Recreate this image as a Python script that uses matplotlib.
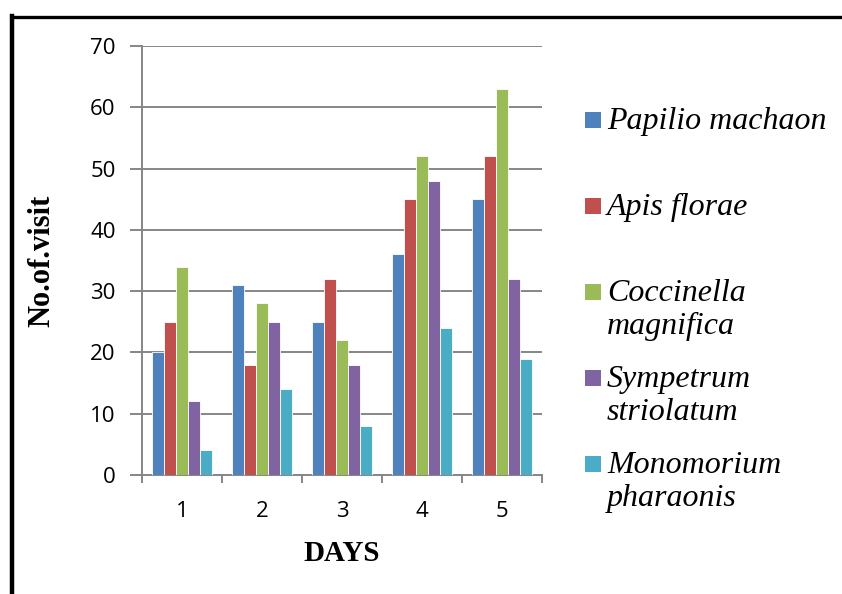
import os
import matplotlib
matplotlib.use("Agg")
import matplotlib.pyplot as plt
import numpy as np
from matplotlib.lines import Line2D
from matplotlib.patches import Rectangle
from matplotlib.font_manager import FontProperties

days = ["1", "2", "3", "4", "5"]
series_names = ["Papilio machaon", "Apis florae", "Coccinella\nmagnifica",
                "Sympetrum\nstriolatum", "Monomorium\npharaonis"]
papilio = [20, 31, 25, 36, 45]
apis = [25, 18, 32, 45, 52]
coccinella = [34, 28, 22, 52, 63]
sympetrum = [12, 25, 18, 48, 32]
monomorium = [4, 14, 8, 24, 19]
yticks = [0, 10, 20, 30, 40, 50, 60, 70]

colors = ["#4F81BD", "#C0504D", "#9BBB59", "#8064A2", "#4BACC6"]
values = [papilio, apis, coccinella, sympetrum, monomorium]

W, H = 842, 594
fig = plt.figure(figsize=(W / 100, H / 100), dpi=100)
ax = fig.add_axes([142 / W, 1 - 475 / H, 400 / W, (475 - 46) / H])

x = np.arange(len(days))
bw = 0.152
for i, (vals, c) in enumerate(zip(values, colors)):
    ax.bar(x + (i - 2) * bw, vals, width=bw, color=c, edgecolor="white",
           linewidth=0.6, zorder=3)

grid_c = "#868686"
ax.set_xlim(-0.5, 4.5)
ax.set_ylim(0, 70)
ax.set_yticks(yticks)
ax.yaxis.grid(True, color=grid_c, linewidth=1.4, zorder=0)
ax.set_xticks(x)
ax.set_xticklabels(days)
ax.set_xticks(np.arange(-0.5, 5, 1), minor=True)
ax.tick_params(axis="x", which="major", length=0, pad=19)
ax.tick_params(axis="x", which="minor", length=6, width=1.4, color=grid_c, direction="out")
ax.tick_params(axis="y", length=9, width=1.4, color=grid_c, pad=10)
for lab in ax.get_xticklabels() + ax.get_yticklabels():
    lab.set_fontfamily("Open Sans")
    lab.set_fontsize(16)
for s in ["top", "right"]:
    ax.spines[s].set_visible(False)
for s in ["left", "bottom"]:
    ax.spines[s].set_color(grid_c)
    ax.spines[s].set_linewidth(1.4)

ax.set_xlabel("DAYS", fontfamily=["Liberation Serif", "FreeSerif"], fontweight="bold",
              fontsize=21, labelpad=13)
ax.set_ylabel("No.of.visit", fontfamily=["Liberation Serif", "FreeSerif"], fontweight="bold",
              fontsize=22, labelpad=24)

# italic serif font for legend
ital_path = None
for p in ["/usr/share/fonts/truetype/liberation/LiberationSerif-Italic.ttf",
          "/usr/share/fonts/truetype/freefont/FreeSerifItalic.ttf"]:
    if os.path.exists(p):
        ital_path = p
        break
if ital_path:
    leg_fp = FontProperties(fname=ital_path, size=23)
else:
    leg_fp = FontProperties(family="serif", style="italic", size=23)

# legend (manual, Word-style spacing)
leg_y = [120, 206, 292, 378, 464]
for name, c, yy in zip(series_names, colors, leg_y):
    fig.add_artist(Rectangle((585 / W, 1 - (yy + 8) / H), 16 / W, 16 / H,
                             transform=fig.transFigure, facecolor=c, edgecolor="none"))
    fig.text(607 / W, 1 - (yy - 13) / H, name, fontproperties=leg_fp,
             va="top", ha="left", linespacing=1.2)

# outer border lines (left and top)
fig.add_artist(Line2D([12 / W, 12 / W], [0, 1 - 16 / H], transform=fig.transFigure,
                      color="black", linewidth=3.2, solid_capstyle="projecting"))
fig.add_artist(Line2D([12 / W, 1], [1 - 17 / H, 1 - 17 / H], transform=fig.transFigure,
                      color="black", linewidth=2.4))

fig.savefig("out.png", dpi=100)
